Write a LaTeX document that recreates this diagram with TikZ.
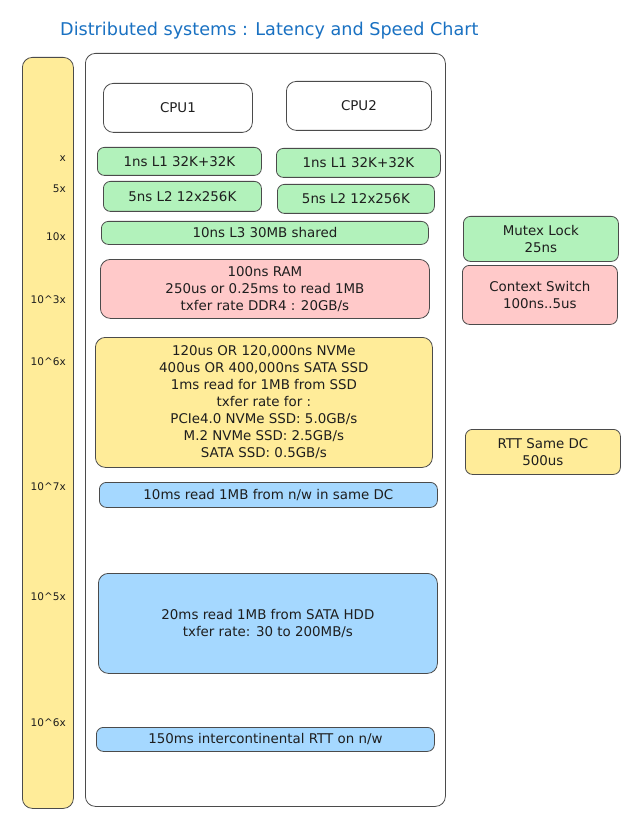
\documentclass[tikz,border=0pt]{standalone}
\usepackage{fontspec}
\setmainfont{DejaVu Sans}
\definecolor{ink}{HTML}{1E1E1E}
\definecolor{titleblue}{HTML}{1971C2}
\definecolor{mint}{HTML}{B2F2BB}
\definecolor{rose}{HTML}{FFC9C9}
\definecolor{sand}{HTML}{FFEC99}
\definecolor{sky}{HTML}{A5D8FF}

\begin{document}
\begin{tikzpicture}[x=1pt, y=-1pt,
		box/.style={draw=ink!80, line width=0.8pt, rounded corners=7pt, anchor=north west,
			inner sep=0pt, align=center, text=ink, font=\fontsize{13.4}{17}\selectfont},
		tick/.style={anchor=east, inner sep=0pt, text=ink, font=\fontsize{10.5}{12}\selectfont}]
	\useasboundingbox[fill=white] (0, 0) rectangle (635, 818);
	\node[anchor=west, inner sep=0pt, text=titleblue, font=\fontsize{17.6}{20}\selectfont] (title) at (60, 31)
		{Distributed systems : Latency and Speed Chart};
	\node[box, fill=sand, minimum width=51, minimum height=751, rounded corners=10pt] (bar) at (22, 57) {};
	\node[box, fill=white, minimum width=360, minimum height=753, rounded corners=10pt] (main) at (85, 53) {};
	\foreach \y/\t [count=\k] in {159/x, 189/5x, 237/10x, 300/10\textasciicircum 3x,
			362/10\textasciicircum 6x, 487/10\textasciicircum 7x, 597/10\textasciicircum 5x, 723/10\textasciicircum 6x}
		\node[tick] (tick\k) at (66, \y) {\t};
	\node[box, fill=white, minimum width=149, minimum height=49, rounded corners=10pt] (cpua) at (103, 83) {CPU1};
	\node[box, fill=white, minimum width=145, minimum height=49, rounded corners=10pt] (cpub) at (286, 81) {CPU2};
	\node[box, fill=mint, minimum width=164, minimum height=28] (lonea) at (97, 147) {1ns L1 32K+32K};
	\node[box, fill=mint, minimum width=164, minimum height=29] (loneb) at (276, 148) {1ns L1 32K+32K};
	\node[box, fill=mint, minimum width=158, minimum height=30] (ltwoa) at (103, 181) {5ns L2 12x256K};
	\node[box, fill=mint, minimum width=157, minimum height=29] (ltwob) at (277, 184) {5ns L2 12x256K};
	\node[box, fill=mint, minimum width=327, minimum height=23] (lthree) at (101, 221) {10ns L3 30MB shared};
	\node[box, fill=rose, minimum width=329, minimum height=59, rounded corners=10pt] (ram) at (100, 259)
		{100ns RAM\\250us or 0.25ms to read 1MB\\txfer rate DDR4 : 20GB/s};
	\node[box, fill=sand, minimum width=337, minimum height=130, rounded corners=10pt] (ssd) at (95, 337)
		{120us OR 120,000ns NVMe\\400us OR 400,000ns SATA SSD\\1ms read for 1MB from SSD\\txfer rate for :\\
		PCIe4.0 NVMe SSD: 5.0GB/s\\M.2 NVMe SSD: 2.5GB/s\\SATA SSD: 0.5GB/s};
	\node[box, fill=sky, minimum width=338, minimum height=25] (net) at (99, 482) {10ms read 1MB from n/w in same DC};
	\node[box, fill=sky, minimum width=339, minimum height=100, rounded corners=10pt] (hdd) at (98, 573)
		{20ms read 1MB from SATA HDD\\txfer rate: 30 to 200MB/s};
	\node[box, fill=sky, minimum width=338, minimum height=24] (rtt) at (96, 727) {150ms intercontinental RTT on n/w};
	\node[box, fill=mint, minimum width=155, minimum height=45] (mutex) at (463, 216) {Mutex Lock\\25ns};
	\node[box, fill=rose, minimum width=155, minimum height=59] (ctx) at (462, 265) {Context Switch\\100ns..5us};
	\node[box, fill=sand, minimum width=155, minimum height=45] (samedc) at (465, 429) {RTT Same DC\\500us};
\end{tikzpicture}
\end{document}
